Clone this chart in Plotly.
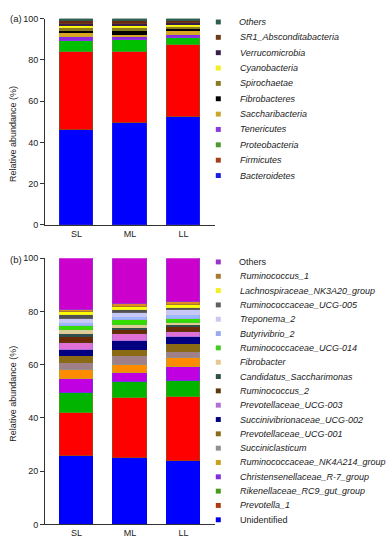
import plotly.graph_objects as go

W, H = 390, 550

samples = ["SL", "ML", "LL"]

# ---- (a) phylum level, stacked bottom -> top ----
phyla = ["Bacteroidetes", "Firmicutes", "Proteobacteria", "Tenericutes", "Saccharibacteria",
         "Fibrobacteres", "Spirochaetae", "Cyanobacteria", "Verrucomicrobia",
         "SR1_Absconditabacteria", "Others"]
phylum_SL = [46.3, 37.7, 5.2, 1.9, 2.1, 1.2, 1.2, 1.1, 1.1, 1.4, 0.8]
phylum_ML = [49.5, 34.5, 6.0, 1.1, 1.0, 2.2, 1.3, 1.2, 0.8, 1.6, 0.8]
phylum_LL = [52.5, 35.1, 3.2, 1.3, 2.3, 0.8, 1.1, 0.8, 0.8, 1.3, 0.8]
phylum_italic = [True] * 11

# ---- (b) genus level, stacked bottom -> top ----
genera = ["Unidentified", "Prevotella_1", "Rikenellaceae_RC9_gut_group",
          "Christensenellaceae_R-7_group", "Ruminococcaceae_NK4A214_group", "Succiniclasticum",
          "Prevotellaceae_UCG-001", "Succinivibrionaceae_UCG-002", "Prevotellaceae_UCG-003",
          "Ruminococcus_2", "Candidatus_Saccharimonas", "Fibrobacter",
          "Ruminococcaceae_UCG-014", "Butyrivibrio_2", "Treponema_2",
          "Ruminococcaceae_UCG-005", "Lachnospiraceae_NK3A20_group", "Ruminococcus_1", "Others"]
genus_SL = [25.5, 16.3, 7.6, 5.0, 3.6, 2.5, 2.5, 2.4, 2.5, 2.5, 1.2, 1.2, 1.5, 1.2, 1.6, 1.3, 1.2, 0.8, 19.6]
genus_ML = [24.8, 22.7, 6.0, 3.3, 3.1, 3.3, 2.2, 3.4, 2.5, 1.5, 0.8, 1.1, 2.0, 1.0, 1.5, 1.2, 1.3, 1.0, 17.3]
genus_LL = [23.8, 23.8, 6.1, 5.2, 3.5, 2.4, 2.7, 2.9, 1.8, 1.8, 0.7, 0.8, 1.6, 1.3, 2.0, 0.8, 1.2, 0.9, 16.7]
genus_italic = [False] + [True] * 17 + [False]

yticks = [0, 20, 40, 60, 80, 100]

# ---- styles ----
phylum_fill = ["#0000FF", "#FF0000", "#00C000", "#8A2BE2", "#DAA520", "#000000",
               "#8B7B1B", "#FFFF00", "#3A1F4A", "#6B2A10", "#2E5E4E"]
phylum_edge = ["#1A1AE0", "#A04018", "#4A9A30", "#8A3AE0", "#C8A828", "#000000",
               "#8A7A20", "#F0F020", "#3A1F4A", "#6B3A1A", "#2E5E4E"]
genus_fill = ["#0000FF", "#FF0000", "#00B400", "#C000E0", "#FF8C00", "#A08088",
              "#8B6A14", "#000080", "#E070D8", "#6A2A08", "#2F4F4F", "#D8D098",
              "#33DD00", "#9CB8FF", "#C8C8F8", "#505050", "#FFFF00", "#E08A20", "#CC00CC"]
genus_edge = ["#0000F0", "#B03A10", "#4A9A1A", "#7A30E0", "#C8A020", "#909090",
              "#8B6A1A", "#000080", "#B070D8", "#5A3A0A", "#2F4F4A", "#E8C890",
              "#44CC22", "#99AAF0", "#C8C8F0", "#606060", "#F0F020", "#A87A30", "#9933CC"]

FONT = "Liberation Sans, Arial, sans-serif"
TXT = "#222222"

fig = go.Figure()

def add_stack(names, s1, s2, s3, fills, edges, xa, ya):
    for i, n in enumerate(names):
        fig.add_trace(go.Bar(
            x=samples, y=[s1[i], s2[i], s3[i]], name=n,
            marker=dict(color=fills[i], line=dict(color=edges[i], width=1)),
            width=0.62, xaxis=xa, yaxis=ya, showlegend=False,
        ))

add_stack(phyla, phylum_SL, phylum_ML, phylum_LL, phylum_fill, phylum_edge, "x", "y")
add_stack(genera, genus_SL, genus_ML, genus_LL, genus_fill, genus_edge, "x2", "y2")

xdom = [45 / W, 215 / W]
top_dom = [1 - 224 / H, 1 - 14 / H]
bot_dom = [1 - 529 / H, 1 - 258 / H]

xax = dict(domain=xdom, range=[-0.59, 2.59], showline=True, linecolor="#333333", linewidth=1,
           ticks="", showgrid=False, zeroline=False,
           tickfont=dict(family=FONT, size=9, color=TXT), fixedrange=True)
yax = dict(range=[0, 100], tickvals=yticks, showline=True, linecolor="#333333", linewidth=1,
           ticks="outside", ticklen=4, tickcolor="#333333", showgrid=False, zeroline=False,
           tickfont=dict(family=FONT, size=9, color=TXT), fixedrange=True)

annotations = []
shapes = []

def add_legend(names, edges, italics, y0, step):
    n = len(names)
    for k in range(n):
        i = n - 1 - k  # legend lists top of stack first
        yc = y0 + k * step
        label = f"<i>{names[i]}</i>" if italics[i] else names[i]
        annotations.append(dict(x=237.5 / W, y=1 - yc / H, xref="paper", yref="paper",
                                text=label, showarrow=False, xanchor="left", yanchor="middle",
                                font=dict(family=FONT, size=9, color=TXT)))
        shapes.append(dict(type="rect", xref="paper", yref="paper",
                           x0=(218.3 - 2.5) / W, x1=(218.3 + 2.5) / W,
                           y0=1 - (yc + 2.5) / H, y1=1 - (yc - 2.5) / H,
                           fillcolor=edges[i], line=dict(width=0)))

add_legend(phyla, phylum_edge, phylum_italic, 17.3, 15.64)
add_legend(genera, genus_edge, genus_italic, 261.7, 14.59)

for txt, yc in [("(a)", 14), ("(b)", 259)]:
    annotations.append(dict(x=8 / W, y=1 - yc / H, xref="paper", yref="paper", text=txt,
                            showarrow=False, xanchor="left", yanchor="middle",
                            font=dict(family=FONT, size=9.5, color=TXT)))
for yc in [131.5, 396]:
    annotations.append(dict(x=13 / W, y=1 - yc / H, xref="paper", yref="paper",
                            text="Relative abundance (%)", textangle=-90, showarrow=False,
                            xanchor="center", yanchor="middle",
                            font=dict(family=FONT, size=9, color=TXT)))

fig.update_layout(
    width=W, height=H, margin=dict(l=0, r=0, t=0, b=0),
    paper_bgcolor="white", plot_bgcolor="white",
    barmode="stack", bargap=0, showlegend=False,
    xaxis=dict(xax, anchor="y"), yaxis=dict(yax, domain=top_dom, anchor="x"),
    xaxis2=dict(xax, anchor="y2"), yaxis2=dict(yax, domain=bot_dom, anchor="x2"),
    annotations=annotations, shapes=shapes,
    font=dict(family=FONT, color=TXT),
)

fig.write_html("out.html", config={"displayModeBar": False},
               post_script="document.body.style.margin='0';document.body.style.padding='0';")
